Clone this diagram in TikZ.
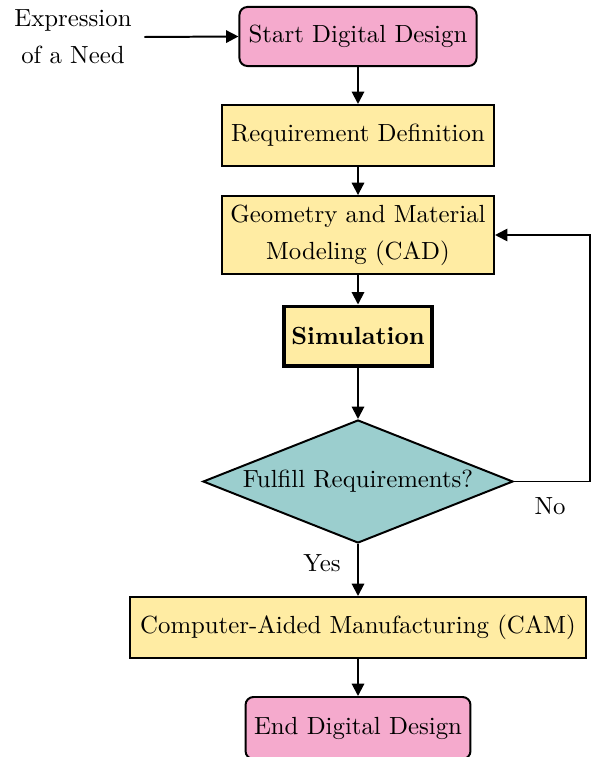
\documentclass[tikz,border=0pt]{standalone}
\usetikzlibrary{shapes.geometric,arrows.meta}
\definecolor{termpink}{RGB}{245,170,205}
\definecolor{procyellow}{RGB}{255,236,163}
\definecolor{decteal}{RGB}{155,206,206}
\tikzset{
  base/.style={draw=black, thick, align=center, inner sep=0pt,
    font=\fontsize{10}{15}\selectfont},
  term/.style={base, fill=termpink, rounded corners=3.2pt},
  proc/.style={base, fill=procyellow},
  simbox/.style={base, fill=procyellow, line width=1.6pt, font=\fontsize{10}{15}\selectfont\bfseries},
  decision/.style={base, shape=diamond, fill=decteal, aspect=2.5},
  flow/.style={draw=black, line width=0.8pt, -{Triangle[length=5pt,width=5pt]}},
  lbl/.style={font=\fontsize{10}{12}\selectfont, inner sep=0pt}
}
\begin{document}
\begin{tikzpicture}[x=0.4032pt, y=-0.4032pt]
  \useasboundingbox (0,0) rectangle (592,757);

  % process chain, all on one vertical axis
  \node[term, minimum width=95.6pt, minimum height=23.8pt] (start) at (358,36.5) {Start Digital Design};
  \node[proc, minimum width=109.7pt, minimum height=24.6pt] (req) at (358,135.5) {Requirement Definition};
  \node[proc, minimum width=109.7pt, minimum height=31.4pt] (geo) at (358,235) {Geometry and Material\\Modeling (CAD)};
  \node[simbox, minimum width=59.3pt, minimum height=23.8pt] (sim) at (358,336) {Simulation};
  \node[decision, minimum width=125pt, minimum height=49.6pt] (dec) at (358,481.5) {Fulfill Requirements?};
  \node[proc, minimum width=183.5pt, minimum height=24.6pt] (cam) at (358,627.5) {Computer-Aided Manufacturing (CAM)};
  \node[term, minimum width=90.7pt, minimum height=25pt] (end) at (358,728) {End Digital Design};

  % input
  \node[base, draw=none, fill=none, inner xsep=4.8pt] (expr) at (73,37) {Expression\\of a Need};

  % connectors
  \draw[flow] (expr.east) -- (start.west);
  \draw[flow] (start) -- (req);
  \draw[flow] (req) -- (geo);
  \draw[flow] (geo) -- (sim);
  \draw[flow] (sim) -- (dec);
  \draw[flow] (dec) -- (cam);
  \draw[flow] (cam) -- (end);

  % feedback loop
  \coordinate (loop) at (590,481.5);
  \draw[flow] (dec.east) -- (loop) |- (geo.east);

  % branch labels
  \node[lbl] (no) at (550,506) {No};
  \node[lbl] (yes) at (322,563) {Yes};
\end{tikzpicture}
\end{document}
